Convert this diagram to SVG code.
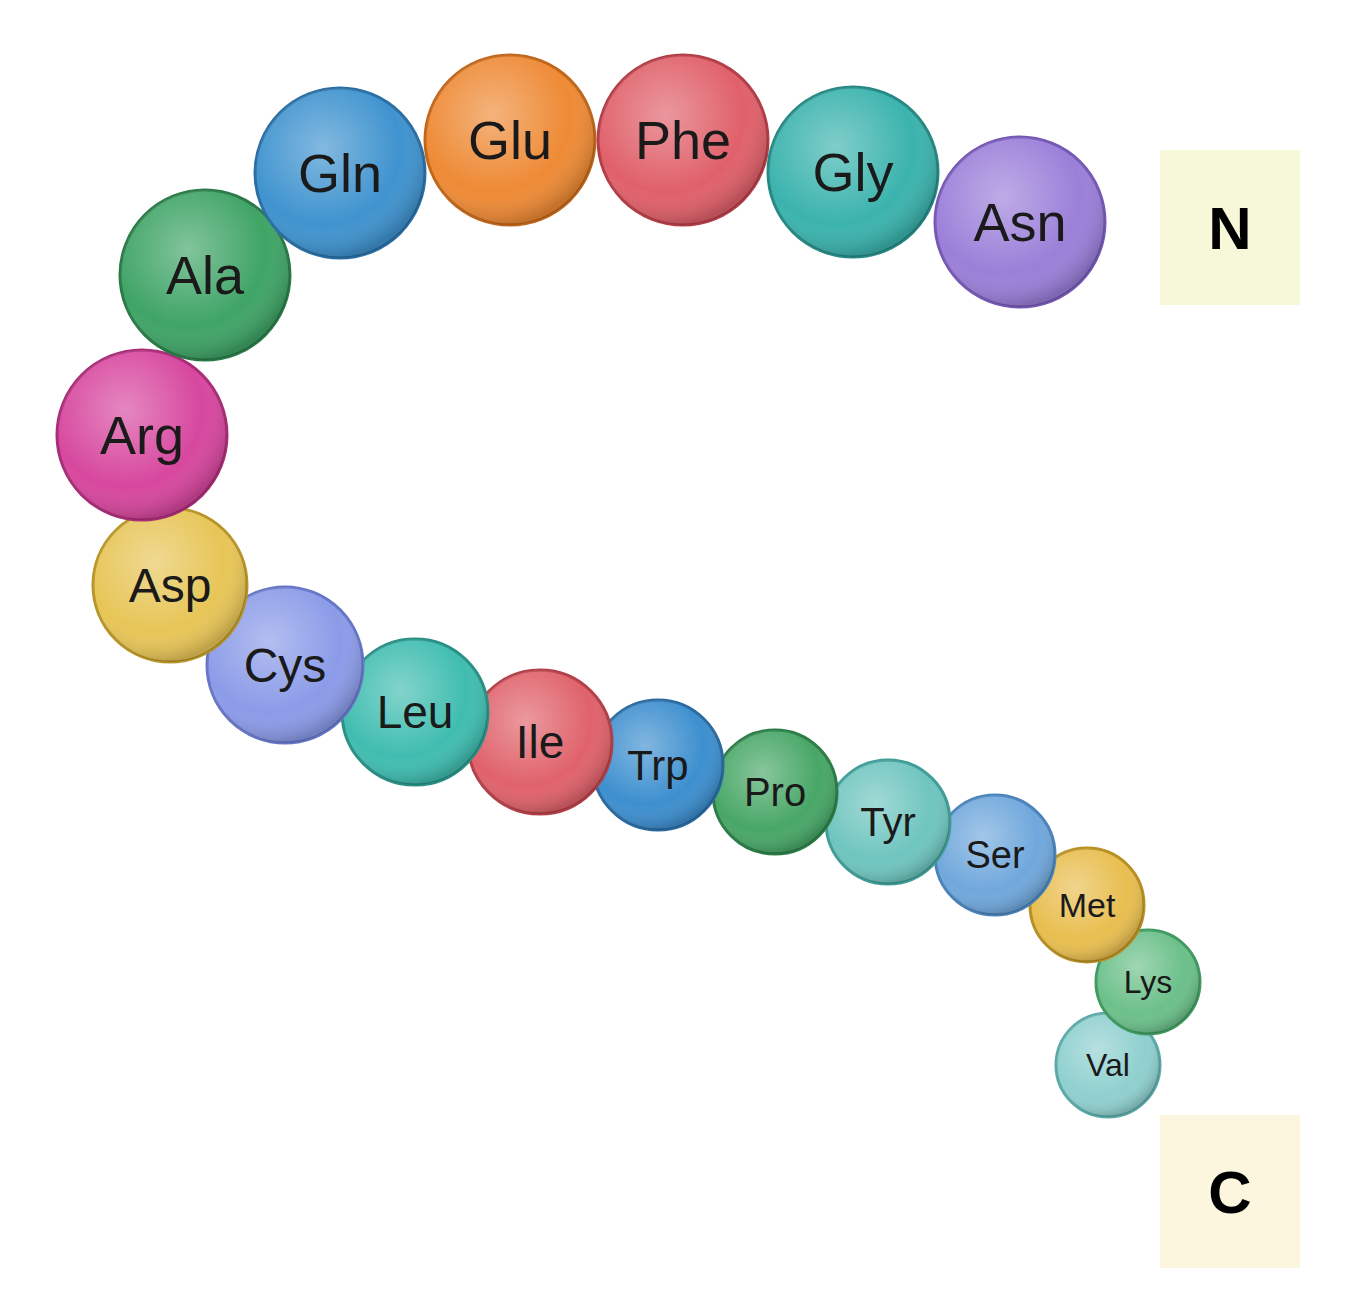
<svg xmlns="http://www.w3.org/2000/svg" width="1358" height="1296" viewBox="0 0 1358 1296">
<defs>
<radialGradient id="hl" cx="0.4" cy="0.35" r="0.65">
<stop offset="0" stop-color="#fff" stop-opacity="0.35"/>
<stop offset="0.7" stop-color="#fff" stop-opacity="0"/>
<stop offset="1" stop-color="#000" stop-opacity="0.18"/>
</radialGradient>
</defs>
<style>
text{font-family:"Liberation Sans",Arial,sans-serif;text-anchor:middle;dominant-baseline:central;fill:#1a1a1a}
.o{fill:url(#hl)}
.lbl{font-weight:bold;font-size:60px;fill:#000}
</style>
<rect width="1358" height="1296" fill="#fff"/>
<g id="N"><rect x="1160" y="150" width="140" height="155" fill="#f7f7d9"/><text class="lbl" x="1230" y="228">N</text></g>
<g id="C"><rect x="1160" y="1115" width="140" height="153" fill="#fdf6df"/><text class="lbl" x="1230" y="1192">C</text></g>
<g id="Val"><circle cx="1108" cy="1065" r="52" fill="#8fd0cf" stroke="#5aa9a8" stroke-width="3"/><circle class="o" cx="1108" cy="1065" r="52"/><text x="1108" y="1065" font-size="32">Val</text></g>
<g id="Lys"><circle cx="1148" cy="982" r="52" fill="#6cc08a" stroke="#3f9a60" stroke-width="3"/><circle class="o" cx="1148" cy="982" r="52"/><text x="1148" y="982" font-size="32">Lys</text></g>
<g id="Met"><circle cx="1087" cy="905" r="57" fill="#e8be50" stroke="#b78f22" stroke-width="3"/><circle class="o" cx="1087" cy="905" r="57"/><text x="1087" y="905" font-size="34">Met</text></g>
<g id="Ser"><circle cx="995" cy="855" r="60" fill="#70a8dc" stroke="#4a83bb" stroke-width="3"/><circle class="o" cx="995" cy="855" r="60"/><text x="995" y="855" font-size="38">Ser</text></g>
<g id="Tyr"><circle cx="888" cy="822" r="62" fill="#6fc5bf" stroke="#3f9d97" stroke-width="3"/><circle class="o" cx="888" cy="822" r="62"/><text x="888" y="822" font-size="40">Tyr</text></g>
<g id="Pro"><circle cx="775" cy="792" r="62" fill="#48a767" stroke="#2c7d47" stroke-width="3"/><circle class="o" cx="775" cy="792" r="62"/><text x="775" y="792" font-size="40">Pro</text></g>
<g id="Trp"><circle cx="658" cy="765" r="65" fill="#3d8fcf" stroke="#2a6aa0" stroke-width="3"/><circle class="o" cx="658" cy="765" r="65"/><text x="658" y="765" font-size="42">Trp</text></g>
<g id="Ile"><circle cx="540" cy="742" r="72" fill="#e0626b" stroke="#b33f48" stroke-width="3"/><circle class="o" cx="540" cy="742" r="72"/><text x="540" y="742" font-size="46">Ile</text></g>
<g id="Leu"><circle cx="415" cy="712" r="73" fill="#40bdb0" stroke="#2a9086" stroke-width="3"/><circle class="o" cx="415" cy="712" r="73"/><text x="415" y="712" font-size="46">Leu</text></g>
<g id="Cys"><circle cx="285" cy="665" r="78" fill="#8b9be8" stroke="#6676c7" stroke-width="3"/><circle class="o" cx="285" cy="665" r="78"/><text x="285" y="665" font-size="48">Cys</text></g>
<g id="Asp"><circle cx="170" cy="585" r="77" fill="#e7c557" stroke="#b89528" stroke-width="3"/><circle class="o" cx="170" cy="585" r="77"/><text x="170" y="585" font-size="48">Asp</text></g>
<g id="Arg"><circle cx="142" cy="435" r="85" fill="#d7479e" stroke="#a82c76" stroke-width="3"/><circle class="o" cx="142" cy="435" r="85"/><text x="142" y="435" font-size="54">Arg</text></g>
<g id="Ala"><circle cx="205" cy="275" r="85" fill="#3fa466" stroke="#2a7a48" stroke-width="3"/><circle class="o" cx="205" cy="275" r="85"/><text x="205" y="275" font-size="54">Ala</text></g>
<g id="Gln"><circle cx="340" cy="173" r="85" fill="#3f93cf" stroke="#2a6ea3" stroke-width="3"/><circle class="o" cx="340" cy="173" r="85"/><text x="340" y="173" font-size="54">Gln</text></g>
<g id="Glu"><circle cx="510" cy="140" r="85" fill="#ee8a35" stroke="#c0661a" stroke-width="3"/><circle class="o" cx="510" cy="140" r="85"/><text x="510" y="140" font-size="54">Glu</text></g>
<g id="Phe"><circle cx="683" cy="140" r="85" fill="#e0606a" stroke="#b33d47" stroke-width="3"/><circle class="o" cx="683" cy="140" r="85"/><text x="683" y="140" font-size="54">Phe</text></g>
<g id="Gly"><circle cx="853" cy="172" r="85" fill="#3bb3ad" stroke="#268883" stroke-width="3"/><circle class="o" cx="853" cy="172" r="85"/><text x="853" y="172" font-size="54">Gly</text></g>
<g id="Asn"><circle cx="1020" cy="222" r="85" fill="#9b7fd9" stroke="#7558b5" stroke-width="3"/><circle class="o" cx="1020" cy="222" r="85"/><text x="1020" y="222" font-size="54">Asn</text></g>
<g id="connectors"/>
</svg>
